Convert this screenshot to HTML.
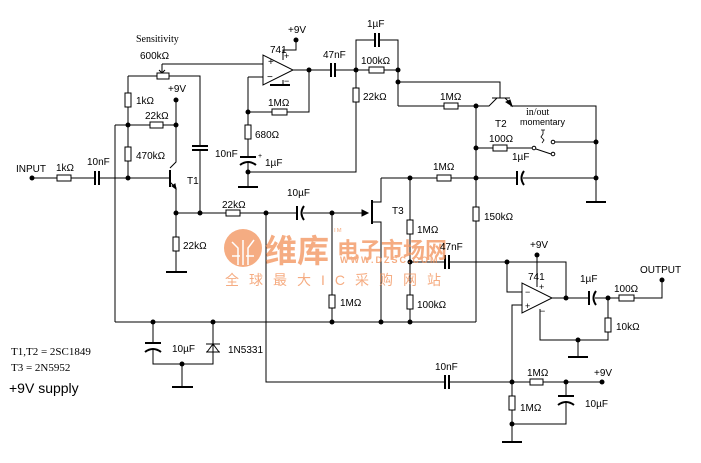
<!DOCTYPE html>
<html><head><meta charset="utf-8"><style>
html,body{margin:0;padding:0;background:#fff;}
svg{display:block;}
text{font-family:"Liberation Sans","Noto Sans CJK SC",sans-serif;font-size:10px;fill:#000;}
.s{font-family:"Liberation Serif",serif;}
</style></head><body>
<svg width="701" height="463" viewBox="0 0 701 463" xmlns="http://www.w3.org/2000/svg">
<g stroke="#000" stroke-width="1" fill="none">
<path d="M32 178H95M99 178H170"/>
<path d="M95 171V185M99 171V185" stroke-width="2"/>
<path d="M115 125V322"/>
<path d="M115 125H176"/>
<path d="M128 76V178"/>
<path d="M128 76H200V146M200 150V213"/>
<path d="M192 146H208M192 150H208" stroke-width="2"/>
<path d="M162 64V72M162 64H263"/>
<path d="M159 70L162 73L165 70"/>
<path d="M176 100V162L170 168"/>
<path d="M170 170V187" stroke-width="2"/>
<path d="M170 182L176 188V272"/>
<path d="M166 272H187" stroke-width="2"/>
<path d="M172 186L176 189L175 184Z" fill="#000"/>
<path d="M176 213H297M303 213H368"/>
<path d="M297 206V220" stroke-width="2"/>
<path d="M304 206Q299 213 304 220" stroke-width="2"/>
<path d="M362 210L368 213L362 216Z" fill="#000"/>
<path d="M372 200V224" stroke-width="2"/>
<path d="M372 202H381V178M372 222H381V322"/>
<path d="M266 213V382H445M449 382H512"/>
<path d="M445 375V389M449 375V389" stroke-width="2"/>
<path d="M332 213V322"/>
<path d="M115 322H476"/>
<path d="M153 322V343M153 350V364H213V322"/>
<path d="M145 343H161" stroke-width="2"/>
<path d="M145 352Q153 346 161 352" stroke-width="2"/>
<path d="M182 364V387"/>
<path d="M172 387H193" stroke-width="2"/>
<path d="M206 352H220M206 344H220M213 344L207 352M213 344L219 352"/>
<path d="M263 55V85L293 70Z"/>
<path d="M283 60V50H296V40M283 80V85"/>
<path d="M270 85H290" stroke-width="2"/>
<path d="M293 70H331M335 70H369"/>
<path d="M331 63V77M335 63V77" stroke-width="2"/>
<path d="M309 70V112H248M248 77H263M248 77V157M248 162V187"/>
<path d="M240 157H256" stroke-width="2"/>
<path d="M240 165Q248 159 256 165" stroke-width="2"/>
<path d="M238 187H258" stroke-width="2"/>
<path d="M248 172H356V70"/>
<path d="M356 70V40H375M379 40H398V106"/>
<path d="M375 33V47M379 33V47" stroke-width="2"/>
<path d="M384 70H398"/>
<path d="M398 82H500V98M398 106H489L497 98M492 98H510M505 98L511 104V106H596V202"/>
<path d="M586 202H606" stroke-width="2"/>
<path d="M506 102L512 106L510 100Z" fill="#000"/>
<path d="M476 106V322"/>
<path d="M476 148H532M536 149L551 154M555 142H596"/>
<circle cx="534" cy="148" r="1.8"/><circle cx="553" cy="154" r="1.8"/><circle cx="553" cy="142" r="1.8"/>
<path d="M541 130H545M543 130V134L541 137L544 140L542 143" stroke-width="0.8"/>
<path d="M381 178H517M523 178H596"/>
<path d="M517 171V185" stroke-width="2"/>
<path d="M524 171Q519 178 524 185" stroke-width="2"/>
<path d="M410 178V322"/>
<path d="M410 262H445M449 262H507"/>
<path d="M445 255V269M449 255V269" stroke-width="2"/>
<path d="M522 283V313L552 298Z"/>
<path d="M537 255V287M540 309V340H608V318"/>
<path d="M578 340V357"/><path d="M568 357H588" stroke-width="2"/>
<path d="M522 292H507V262H566V298"/>
<path d="M552 298H589M595 298H662V280"/>
<path d="M589 291V305" stroke-width="2"/>
<path d="M596 291Q591 298 596 305" stroke-width="2"/>
<path d="M608 298V318"/>
<path d="M522 305H512V442M512 382H602"/>
<path d="M502 442H522" stroke-width="2"/>
<path d="M566 382V396M566 403V424H512"/>
<path d="M558 396H574" stroke-width="2"/>
<path d="M558 405Q566 399 574 405" stroke-width="2"/>
</g>
<g stroke="#000" fill="#fff">
<rect x="57" y="175" width="14" height="6"/>
<rect x="157" y="73" width="12" height="6"/>
<rect x="125" y="93" width="6" height="14"/>
<rect x="150" y="122" width="13" height="6"/>
<rect x="125" y="147" width="6" height="14"/>
<rect x="173" y="237" width="6" height="14"/>
<rect x="226" y="210" width="14" height="6"/>
<rect x="329" y="295" width="6" height="13"/>
<rect x="272" y="109" width="15" height="6"/>
<rect x="245" y="125" width="6" height="14"/>
<rect x="353" y="88" width="6" height="14"/>
<rect x="369" y="67" width="15" height="6"/>
<rect x="444" y="103" width="14" height="6"/>
<rect x="493" y="145" width="14" height="6"/>
<rect x="437" y="175" width="14" height="6"/>
<rect x="407" y="220" width="6" height="14"/>
<rect x="407" y="295" width="6" height="14"/>
<rect x="473" y="207" width="6" height="14"/>
<rect x="619" y="295" width="15" height="6"/>
<rect x="605" y="318" width="6" height="14"/>
<rect x="530" y="379" width="13" height="6"/>
<rect x="509" y="396" width="6" height="14"/>
</g>
<g fill="#000">
<circle cx="32" cy="178" r="2.5"/><circle cx="128" cy="178" r="2.5"/><circle cx="128" cy="125" r="2.5"/>
<circle cx="176" cy="125" r="2.5"/><circle cx="176" cy="100" r="2.5"/><circle cx="176" cy="213" r="2.5"/>
<circle cx="200" cy="213" r="2.5"/><circle cx="266" cy="213" r="2.5"/><circle cx="332" cy="213" r="2.5"/>
<circle cx="153" cy="322" r="2.5"/><circle cx="213" cy="322" r="2.5"/><circle cx="332" cy="322" r="2.5"/>
<circle cx="381" cy="322" r="2.5"/><circle cx="410" cy="322" r="2.5"/><circle cx="182" cy="364" r="2.5"/>
<circle cx="296" cy="40" r="2.5"/><circle cx="309" cy="70" r="2.5"/><circle cx="248" cy="112" r="2.5"/>
<circle cx="248" cy="172" r="2.5"/><circle cx="356" cy="70" r="2.5"/><circle cx="398" cy="70" r="2.5"/>
<circle cx="398" cy="82" r="2.5"/><circle cx="476" cy="106" r="2.5"/><circle cx="476" cy="148" r="2.5"/>
<circle cx="596" cy="142" r="2.5"/><circle cx="596" cy="178" r="2.5"/><circle cx="410" cy="178" r="2.5"/>
<circle cx="476" cy="178" r="2.5"/><circle cx="410" cy="262" r="2.5"/><circle cx="507" cy="262" r="2.5"/>
<circle cx="537" cy="255" r="2.5"/><circle cx="566" cy="298" r="2.5"/><circle cx="608" cy="298" r="2.5"/>
<circle cx="662" cy="280" r="2.5"/><circle cx="578" cy="340" r="2.5"/><circle cx="512" cy="382" r="2.5"/>
<circle cx="566" cy="382" r="2.5"/><circle cx="602" cy="382" r="2.5"/><circle cx="512" cy="424" r="2.5"/>
</g>
<g opacity="0.7">
<circle cx="243" cy="248" r="19" fill="#f28a4e"/>
<g stroke="#fff" stroke-width="1.5" fill="none">
<path d="M243 265V240M238 265V248L232 242M248 265V248L254 240M232 256H240M254 256H246"/>
</g>
<text x="265" y="262" style="font-size:32px;fill:#f28a4e;font-weight:bold">维库</text>
<text x="337" y="258" style="font-size:22px;fill:#f28a4e;font-weight:bold">电子市场网</text>
<text x="340" y="263" style="font-size:9px;fill:#f28a4e;font-weight:bold;letter-spacing:2px">WWW.DZSC.COM</text>
<text x="225" y="285" style="font-size:14px;fill:#f28a4e;letter-spacing:10px">全球最大IC采购网站</text>
<text x="333" y="232" style="font-size:6px;fill:#f28a4e">TM</text>
</g>
<text x="16" y="172">INPUT</text>
<text x="56" y="171">1kΩ</text>
<text x="87" y="165">10nF</text>
<text x="136" y="42" class="s">Sensitivity</text>
<text x="140" y="59">600kΩ</text>
<text x="136" y="104">1kΩ</text>
<text x="145" y="119">22kΩ</text>
<text x="168" y="92">+9V</text>
<text x="136" y="159">470kΩ</text>
<text x="215" y="157">10nF</text>
<text x="187" y="184">T1</text>
<text x="183" y="249">22kΩ</text>
<text x="222" y="208">22kΩ</text>
<text x="287" y="196">10µF</text>
<text x="392" y="214">T3</text>
<text x="340" y="306">1MΩ</text>
<text x="417" y="233">1MΩ</text>
<text x="417" y="308">100kΩ</text>
<text x="440" y="250">47nF</text>
<text x="484" y="220">150kΩ</text>
<text x="288" y="33">+9V</text>
<text x="270" y="53">741</text>
<text x="268" y="65">+</text><text x="267" y="80">−</text>
<text x="284" y="59" style="font-size:9px">+</text><text x="284" y="84" style="font-size:9px">−</text>
<text x="323" y="58">47nF</text>
<text x="268" y="106">1MΩ</text>
<text x="255" y="138">680Ω</text>
<text x="265" y="166">1µF</text>
<text x="258" y="158" style="font-size:7px">+</text>
<text x="363" y="100">22kΩ</text>
<text x="367" y="27">1µF</text>
<text x="361" y="64">100kΩ</text>
<text x="440" y="100">1MΩ</text>
<text x="495" y="127">T2</text>
<text x="526" y="115" class="s">in/out</text>
<text x="520" y="125" style="font-size:9px">momentary</text>
<text x="489" y="142">100Ω</text>
<text x="512" y="160">1µF</text>
<text x="433" y="170">1MΩ</text>
<text x="530" y="248">+9V</text>
<text x="528" y="280">741</text>
<text x="539" y="290" style="font-size:9px">+</text>
<text x="525" y="295" style="font-size:9px">−</text>
<text x="525" y="309" style="font-size:9px">+</text>
<text x="540" y="314" style="font-size:9px">−</text>
<text x="580" y="282">1µF</text>
<text x="614" y="292">100Ω</text>
<text x="640" y="273">OUTPUT</text>
<text x="616" y="330">10kΩ</text>
<text x="435" y="370">10nF</text>
<text x="527" y="376">1MΩ</text>
<text x="594" y="376">+9V</text>
<text x="520" y="411">1MΩ</text>
<text x="585" y="407">10µF</text>
<text x="172" y="352">10µF</text>
<text x="228" y="353">1N5331</text>
<text x="11" y="355" class="s" style="font-size:11px">T1,T2 = 2SC1849</text>
<text x="11" y="371" class="s" style="font-size:11px">T3 = 2N5952</text>
<text x="9" y="393" style="font-size:14px">+9V supply</text>
</svg>
</body></html>
